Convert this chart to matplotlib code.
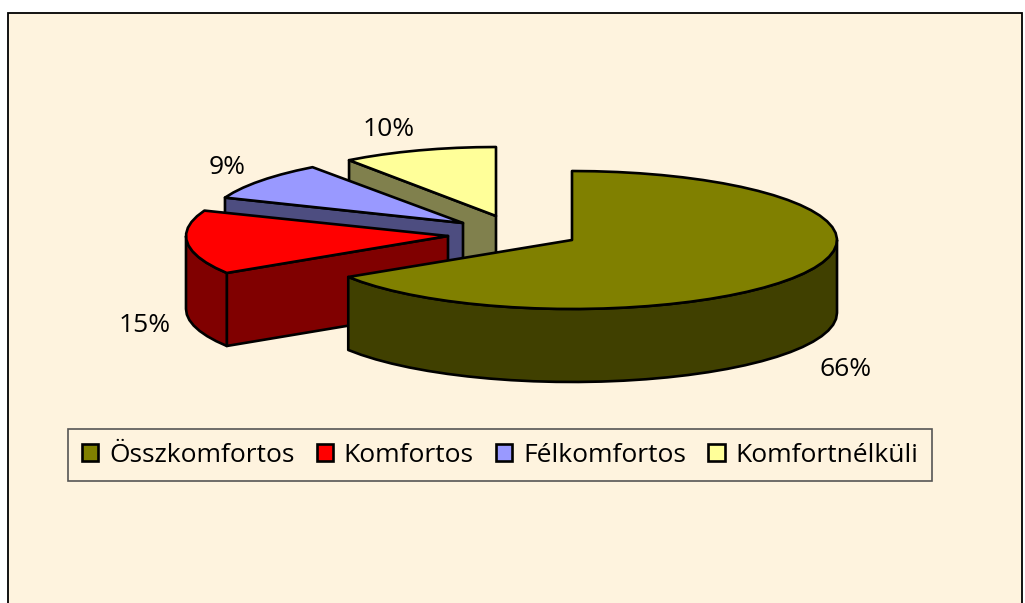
import numpy as np
import matplotlib
matplotlib.use("Agg")
import matplotlib.pyplot as plt
from matplotlib.patches import Polygon, Rectangle

categories = ["Összkomfortos", "Komfortos", "Félkomfortos", "Komfortnélküli"]
values = [66, 15, 9, 10]
top_colors = ["#808000", "#FF0000", "#9999FF", "#FFFF99"]
side_colors = ["#404000", "#800000", "#4D4D80", "#80804D"]

# pixel layout of the exploded pseudo-3D pie
centers = [(572, 240), (448, 236), (463, 223), (496, 216)]
radii_x = [265, 262, 256, 250]
radius_y = 69
depth = 73
label_pos = [(846, 369), (145, 326), (227, 167), (389, 129)]
draw_order = [3, 2, 1, 0]
BG = "#FEF3DE"

plt.rcParams["font.family"] = ["Open Sans", "DejaVu Sans"]
fig = plt.figure(figsize=(10.25, 6.03), dpi=100, facecolor="white")
ax = fig.add_axes([0, 0, 1, 1])
ax.set_xlim(0, 1025)
ax.set_ylim(603, 0)
ax.axis("off")

ax.add_patch(Rectangle((8, 13), 1014, 600, facecolor=BG, edgecolor="black", lw=1.3, zorder=0))

fracs = np.array(values, dtype=float) / sum(values)
starts = np.concatenate([[0], np.cumsum(fracs)[:-1]]) * 360
ends = starts + fracs * 360


def rim(cx, cy, rx, a0, a1):
    n = max(2, int(abs(a1 - a0) / 5) + 2)
    a = np.radians(np.linspace(a0, a1, n))
    return np.column_stack([cx + rx * np.sin(a), cy - radius_y * np.cos(a)])


kw = dict(edgecolor="black", lw=1.9, joinstyle="round")
for z, i in enumerate(draw_order):
    cx, cy = centers[i]
    rx = radii_x[i]
    a0, a1 = starts[i], ends[i]
    base = 10 * (z + 1)
    # cut face at the leading edge, visible when it looks toward the viewer
    if np.sin(np.radians(a0)) < -1e-6:
        tip = rim(cx, cy, rx, a0, a0)[0]
        face = [(cx, cy), tuple(tip), (tip[0], tip[1] + depth), (cx, cy + depth)]
        ax.add_patch(Polygon(face, closed=True, facecolor=side_colors[i], zorder=base, **kw))
    # outer rim on the front half of the ellipse
    lo, hi = max(a0, 90), min(a1, 270)
    if hi > lo:
        arc = rim(cx, cy, rx, lo, hi)
        wall = np.vstack([arc, arc[::-1] + [0, depth]])
        ax.add_patch(Polygon(wall, closed=True, facecolor=side_colors[i], zorder=base + 1, **kw))
    # top
    top = np.vstack([[cx, cy], rim(cx, cy, rx, a0, a1)])
    ax.add_patch(Polygon(top, closed=True, facecolor=top_colors[i], zorder=base + 2, **kw))

for v, (x, y) in zip(values, label_pos):
    ax.text(x, y, f"{v}%", ha="center", va="center", fontsize=19, color="black", zorder=100)

handles = [Rectangle((0, 0), 1, 1, facecolor=c, edgecolor="black", lw=1.9) for c in top_colors]
leg = ax.legend(
    handles, categories, ncol=4, loc="center", bbox_to_anchor=(500, 455),
    bbox_transform=ax.transData, fontsize=19, frameon=True, fancybox=False,
    facecolor=BG, edgecolor="#555555", framealpha=1, handlelength=0.62, handleheight=0.62,
    handletextpad=0.4, columnspacing=0.85, borderpad=0.53, borderaxespad=0,
)
leg.get_frame().set_linewidth(1.2)
leg.set_zorder(100)

fig.savefig("out.png", dpi=100, facecolor="white")
